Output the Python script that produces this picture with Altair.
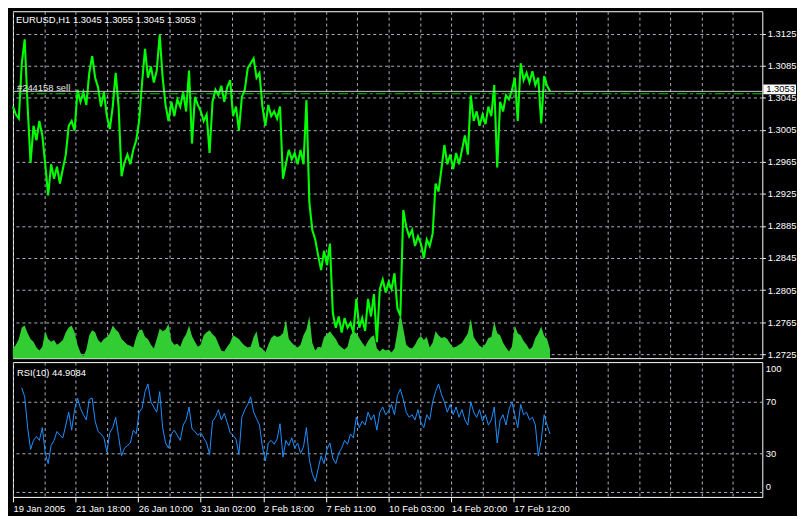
import altair as alt
import pandas as pd

# ---------------- data ----------------
SYMBOL_HEADER = "EURUSD,H1  1.3045 1.3055 1.3045 1.3053"
RSI_HEADER = "RSI(10) 44.9084"
ORDER_LABEL = "#244158 sell"
BID = [1.3053]
ORDER_PRICE = [1.3050]

BAR_STEP = 3      # one sample every 3 hourly bars
RSI_START = 9     # first bar with an RSI(10) value

price = [
    1.3034, 1.3024, 1.3019, 1.3088, 1.3118, 1.3034, 1.2964, 1.3010, 1.2992, 1.3016,
    1.2998, 1.2962, 1.2923, 1.2962, 1.2944, 1.2959, 1.2938, 1.2956, 1.2974, 1.3010,
    1.3016, 1.3004, 1.3055, 1.3040, 1.3052, 1.3036, 1.3076, 1.3097, 1.3070, 1.3058,
    1.3034, 1.3052, 1.3022, 1.3006, 1.3034, 1.3076, 1.3034, 1.2947, 1.2964, 1.2974,
    1.2962, 1.2980, 1.2992, 1.3016, 1.3064, 1.3106, 1.3070, 1.3084, 1.3064, 1.3079,
    1.3124, 1.3070, 1.3036, 1.3016, 1.3040, 1.3022, 1.3043, 1.3034, 1.3052, 1.3028,
    1.3079, 1.2988, 1.3046, 1.3036, 1.3028, 1.3016, 1.3024, 1.2976, 1.3040, 1.3055,
    1.3048, 1.3060, 1.3040, 1.3058, 1.3067, 1.3022, 1.3034, 1.3004, 1.3046, 1.3055,
    1.3082, 1.3088, 1.3094, 1.3070, 1.3076, 1.3034, 1.3010, 1.3036, 1.3022, 1.3028,
    1.3019, 1.3034, 1.2944, 1.2962, 1.2980, 1.2968, 1.2976, 1.2962, 1.2980, 1.2962,
    1.3042, 1.2914, 1.2880, 1.2868, 1.2848, 1.2830, 1.2854, 1.2836, 1.2863, 1.2776,
    1.2758, 1.2772, 1.2752, 1.2770, 1.2758, 1.2764, 1.2752, 1.2794, 1.2758, 1.2770,
    1.2754, 1.2794, 1.2772, 1.2800, 1.2740, 1.2806, 1.2818, 1.2802, 1.2815, 1.2806,
    1.2826, 1.2782, 1.2773, 1.2905, 1.2884, 1.2872, 1.2880, 1.2860, 1.2872, 1.2863,
    1.2845, 1.2868, 1.2860, 1.2875, 1.2938, 1.2928, 1.2956, 1.2986, 1.2962, 1.2974,
    1.2956, 1.2976, 1.2962, 1.2980, 1.2998, 1.2974, 1.3048, 1.3016, 1.3028, 1.3010,
    1.3024, 1.3012, 1.3034, 1.3022, 1.3061, 1.2958, 1.3040, 1.3028, 1.3048, 1.3043,
    1.3054, 1.3070, 1.3016, 1.3088, 1.3067, 1.3076, 1.3064, 1.3078, 1.3061, 1.3070,
    1.3013, 1.3072, 1.3060, 1.3053,
]

volume = [
    10, 14, 20, 32, 34, 26, 20, 17, 11, 8,
    12, 28, 20, 17, 19, 14, 16, 19, 27, 32,
    34, 27, 14, 6, 2, 9, 24, 29, 27, 19,
    16, 20, 22, 26, 34, 30, 27, 20, 17, 14,
    13, 11, 22, 29, 30, 22, 20, 14, 10, 20,
    31, 28, 30, 36, 18, 14, 15, 12, 20, 25,
    34, 23, 17, 12, 14, 24, 27, 29, 25, 22,
    15, 8, 7, 12, 16, 24, 22, 20, 16, 13,
    11, 12, 22, 28, 12, 10, 6, 14, 21, 24,
    22, 23, 26, 40, 20, 16, 13, 11, 14, 24,
    30, 44, 16, 8, 12, 11, 22, 25, 28, 24,
    20, 14, 11, 9, 12, 24, 28, 26, 21, 16,
    12, 18, 22, 24, 10, 7, 10, 8, 9, 6,
    10, 28, 48, 31, 14, 11, 10, 14, 20, 23,
    19, 22, 11, 16, 28, 24, 21, 22, 20, 15,
    11, 12, 14, 16, 21, 26, 41, 22, 17, 13,
    11, 15, 21, 22, 38, 26, 24, 16, 11, 7,
    12, 34, 26, 24, 18, 14, 9, 12, 21, 26,
    33, 23, 20, 9,
]

rsi = [
    81, 74, 50, 33, 40, 43, 40, 50, 30, 22,
    36, 40, 47, 44, 42, 52, 62, 48, 64, 73,
    65, 60, 56, 72, 73, 55, 47, 45, 42, 31,
    46, 50, 58, 43, 28, 34, 36, 38, 48, 45,
    62, 65, 78, 84, 70, 66, 62, 78, 50, 38,
    34, 45, 48, 44, 40, 52, 56, 66, 49, 47,
    44, 46, 42, 38, 29, 55, 58, 64, 56, 61,
    54, 46, 44, 41, 29, 58, 64, 68, 74, 62,
    57, 52, 35, 24, 38, 40, 37, 41, 53, 27,
    40, 36, 42, 34, 38, 30, 35, 50, 25, 14,
    8, 18, 28, 22, 33, 38, 26, 22, 30, 34,
    40, 37, 45, 42, 58, 50, 55, 52, 62, 56,
    60, 48, 62, 66, 60, 63, 68, 60, 75, 80,
    72, 62, 58, 60, 56, 64, 54, 50, 60, 56,
    70, 78, 84, 76, 70, 62, 68, 60, 66, 58,
    64, 56, 52, 70, 62, 58, 64, 55, 60, 52,
    56, 66, 38, 56, 60, 52, 64, 70, 60, 50,
    68, 60, 62, 56, 58, 52, 28, 40, 60, 52,
    45,
]

price_ticks = [1.2725, 1.2765, 1.2805, 1.2845, 1.2885, 1.2925,
               1.2965, 1.3005, 1.3045, 1.3085, 1.3125]
rsi_levels = [0, 30, 70, 100]
grid_bars = [0, 32, 64, 96, 128, 160, 192, 224, 256, 288, 320, 352, 384,
             416, 448, 480, 512, 544, 576, 608, 640, 672, 704, 736]
x_label_bars = [0, 64, 128, 192, 256, 320, 384, 448, 512]
x_label_text = ["19 Jan 2005", "21 Jan 18:00", "26 Jan 10:00", "31 Jan 02:00",
                "2 Feb 18:00", "7 Feb 11:00", "10 Feb 03:00", "14 Feb 20:00",
                "17 Feb 12:00"]

# ---------------- styling ----------------
W = 756
H_MAIN = 350
H_RSI = 136
FONT = "Liberation Sans"
FS = 9.5
GRID = "#aab1bd"

df_price = pd.DataFrame({"bar": [BAR_STEP * k for k in range(len(price))], "price": price})
df_vol = pd.DataFrame({"bar": [BAR_STEP * k for k in range(len(volume))], "vol": volume})
df_rsi = pd.DataFrame({"bar": [RSI_START + BAR_STEP * k for k in range(len(rsi))], "rsi": rsi})
df_bid = pd.DataFrame({"p": BID})
df_order = pd.DataFrame({"p": ORDER_PRICE})
df_one = pd.DataFrame({"a": [0]})

xscale = alt.Scale(domain=[0, 766], nice=False, zero=False)
pscale = alt.Scale(domain=[1.2720, 1.3153], nice=False, zero=False)
rscale = alt.Scale(domain=[-4, 101], nice=False, zero=False)

x_main_axis = alt.Axis(values=grid_bars, labels=False, ticks=False, domain=False,
                       grid=True, gridDash=[3, 3], gridColor=GRID, title=None)
X_main = alt.X("bar:Q", scale=xscale, axis=x_main_axis)

price_axis = alt.Axis(orient="right", values=price_ticks, format=".4f", grid=True,
                      gridDash=[3, 3], gridColor=GRID, ticks=True, tickSize=3,
                      tickColor="white", domain=False, labelColor="white",
                      labelPadding=2, labelFont=FONT, labelFontSize=FS,
                      labelOverlap=False, title=None)


def PY(field):
    return alt.Y(field, scale=pscale, axis=price_axis)


vol = alt.Chart(df_vol).mark_area(color="#32cd32", interpolate="linear").encode(
    x=X_main,
    y=alt.Y("vol:Q", scale=alt.Scale(domain=[0, 362], nice=False), axis=None),
)

pline = alt.Chart(df_price).mark_line(color="#00ff00", strokeWidth=2.1).encode(
    x=X_main,
    y=PY("price:Q"),
)

bid_line = alt.Chart(df_bid).mark_rule(color="#c8c8c8", strokeWidth=1).encode(
    y=PY("p:Q"))

order_line = alt.Chart(df_order).mark_rule(
    color="#00c800", strokeWidth=1, strokeDash=[10, 3, 3, 3]).encode(
    y=PY("p:Q"))

order_text = alt.Chart(df_order).mark_text(
    align="left", baseline="bottom", dy=-1, color="#e8e8e8", font=FONT, fontSize=FS).encode(
    x=alt.value(4), y=PY("p:Q"), text=alt.value(ORDER_LABEL))

bid_box = alt.Chart(df_bid).mark_rect(color="white", yOffset=-7, y2Offset=3).encode(
    x=alt.value(W + 1), x2=alt.value(W + 34),
    y=PY("p:Q"), y2="p:Q")

bid_text = alt.Chart(df_bid).mark_text(
    align="left", baseline="middle", dy=-2.5, color="black", font=FONT, fontSize=FS).encode(
    x=alt.value(W + 4), y=PY("p:Q"),
    text=alt.Text("p:Q", format=".4f"))

header = alt.Chart(df_one).mark_text(
    align="left", baseline="middle", color="white", font=FONT, fontSize=FS).encode(
    x=alt.value(3), y=alt.value(9), text=alt.value(SYMBOL_HEADER))

price_group = alt.layer(pline, bid_line, order_line, order_text, bid_box, bid_text, header)

main = alt.layer(vol, price_group).resolve_scale(y="independent").properties(
    width=W, height=H_MAIN)

# ---------------- RSI panel ----------------
label_expr = " : ".join(f"datum.value == {b} ? '{t}'" for b, t in zip(x_label_bars, x_label_text)) + " : ''"
tick_test = " || ".join(f"datum.value == {b}" for b in x_label_bars)

x_rsi_axis = alt.Axis(values=grid_bars, grid=True, gridDash=[3, 3], gridColor=GRID,
                      domain=False, labelExpr=label_expr, labelAlign="left",
                      labelBaseline="top", labelPadding=2, labelOverlap=False,
                      labelFlush=False, labelColor="white", labelFont=FONT,
                      labelFontSize=FS, ticks=True, tickSize=5, tickColor="white",
                      tickOpacity={"condition": {"test": tick_test, "value": 1}, "value": 0},
                      title=None)

rsi_axis = alt.Axis(orient="right", values=rsi_levels, grid=True, gridDash=[3, 3],
                    gridColor=GRID,
                    gridOpacity={"condition": {"test": "datum.value == 100", "value": 0}, "value": 1},
                    ticks=False, domain=False, labelColor="white", labelFont=FONT,
                    labelFontSize=FS, labelPadding=3, labelOverlap=False,
                    labelBaseline={"condition": [{"test": "datum.value == 100", "value": "top"},
                                                 {"test": "datum.value == 0", "value": "bottom"}],
                                   "value": "middle"},
                    title=None)

rsi_line = alt.Chart(df_rsi).mark_line(color="#1e90ff", strokeWidth=1).encode(
    x=alt.X("bar:Q", scale=xscale, axis=x_rsi_axis),
    y=alt.Y("rsi:Q", scale=rscale, axis=rsi_axis),
)

rsi_header = alt.Chart(df_one).mark_text(
    align="left", baseline="middle", color="white", font=FONT, fontSize=FS).encode(
    x=alt.value(4), y=alt.value(11), text=alt.value(RSI_HEADER))

rsi_chart = alt.layer(rsi_line, rsi_header).properties(width=W, height=H_RSI)

chart = alt.vconcat(main, rsi_chart, spacing=2, padding=0).configure(
    background="black"
).configure_view(stroke="white", strokeWidth=1)

chart.save("out.html", embed_options={"renderer": "svg", "actions": False})
